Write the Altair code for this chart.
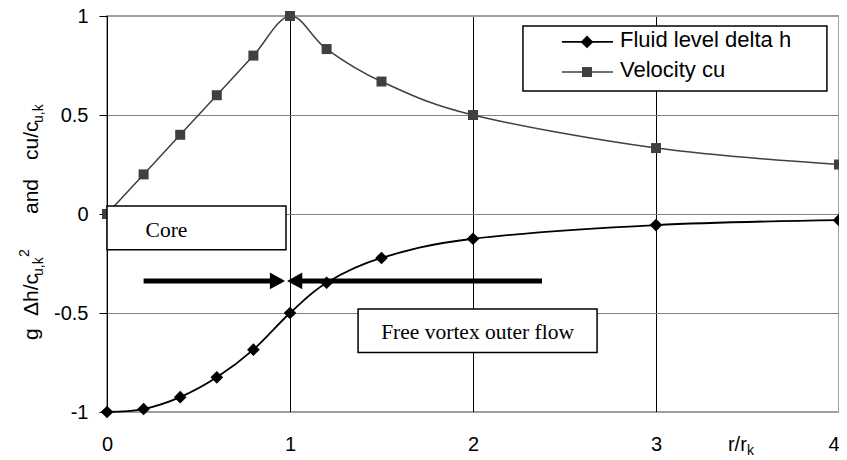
import altair as alt
import pandas as pd

# ---- data ----
r = [0, 0.2, 0.4, 0.6, 0.8, 1.0, 1.2, 1.5, 2, 3, 4]
fluid = [-1.0, -0.985, -0.925, -0.825, -0.685, -0.5, -0.347, -0.222, -0.125, -0.056, -0.031]
velocity = [0, 0.2, 0.4, 0.6, 0.8, 1.0, 0.833, 0.669, 0.5, 0.333, 0.25]

x_ticks = [0, 1, 2, 3, 4]
y_ticks = [-1, -0.5, 0, 0.5, 1]

# annotation boxes (data units)
box_name = ["core", "free", "legend"]
box_x1 = [0.0, 1.372, 2.273]
box_x2 = [0.978, 2.678, 3.934]
box_y1 = [0.04, -0.48, 0.949]
box_y2 = [-0.18, -0.70, 0.621]

note_text = ["Core", "Free vortex outer flow"]
note_x = [0.325, 2.025]
note_y = [-0.086, -0.60]

arrow_x1 = [0.2, 2.377]
arrow_x2 = [0.95, 1.02]
arrow_y = [-0.338, -0.338]
head_x = [0.973, 0.984]

leg_labels = ["Fluid level delta h", "Velocity cu"]
leg_line_x1 = [2.486, 2.486]
leg_line_x2 = [2.765, 2.765]
leg_mark_x = [2.623, 2.623]
leg_y = [0.869, 0.717]
leg_text_x = [2.803, 2.803]
leg_text_y = [0.843, 0.694]

# axis titles written in pieces (for sub/superscripts), data units
ytitle_text = ["g", "Δh/c", "u,k", "2", "and", "cu/c", "u,k"]
ytitle_x = [-0.377, -0.377, -0.350, -0.426, -0.377, -0.377, -0.350]
ytitle_y = [-0.636, -0.515, -0.313, -0.217, 0.0, 0.273, 0.460]
ytitle_size = [21, 21, 14, 14, 21, 21, 14]

xtitle_text = ["r/r", "k"]
xtitle_x = [3.393, 3.497]
xtitle_y = [-1.198, -1.217]
xtitle_size = [20, 14]

BLACK = "#000000"
GRAY = "#404040"
FONT = "Liberation Sans"
SERIF = "Liberation Serif"

df_f = pd.DataFrame({"x": r, "y": fluid})
df_v = pd.DataFrame({"x": r, "y": velocity})
df_box = pd.DataFrame({"name": box_name, "x": box_x1, "x2": box_x2, "y": box_y1, "y2": box_y2})
df_note = pd.DataFrame({"t": note_text, "x": note_x, "y": note_y})
df_arrow = pd.DataFrame({"x": arrow_x1, "x2": arrow_x2, "y": arrow_y})
df_head_r = pd.DataFrame({"x": [head_x[0]], "y": [arrow_y[0]]})
df_head_l = pd.DataFrame({"x": [head_x[1]], "y": [arrow_y[1]]})
df_yt = pd.DataFrame({"t": ytitle_text, "x": ytitle_x, "y": ytitle_y, "s": ytitle_size})
df_xt = pd.DataFrame({"t": xtitle_text, "x": xtitle_x, "y": xtitle_y, "s": xtitle_size})

xs = alt.Scale(domain=[0, 4], nice=False, zero=False)
ys = alt.Scale(domain=[-1, 1], nice=False, zero=False)

x_axis = alt.Axis(
    values=x_ticks, title=None,
    labelFont=FONT, labelFontSize=20, labelColor=BLACK, labelPadding=22,
    labelAlign={"condition": {"test": "datum.value == 4", "value": "right"}, "value": "center"},
    ticks=False, domain=False, grid=True,
    gridColor={"condition": {"test": "datum.value == 0 || datum.value == 4", "value": "transparent"}, "value": BLACK},
    gridWidth=1, labelFlush=False,
)
y_axis = alt.Axis(
    values=y_ticks, title=None,
    labelFont=FONT, labelFontSize=20, labelColor=BLACK, labelPadding=11,
    labelExpr="'' + datum.value",
    ticks=True, tickSize=8, tickColor=BLACK, tickWidth=1,
    domain=True, domainColor=BLACK, domainWidth=1,
    grid=True,
    gridColor={"condition": {"test": "datum.value == 1 || datum.value == -1", "value": "#a0a0a0"}, "value": "#808080"},
    gridWidth=1,
)


def X(field="x"):
    return alt.X(f"{field}:Q", scale=xs, axis=x_axis)


def Y(field="y"):
    return alt.Y(f"{field}:Q", scale=ys, axis=y_axis)


fl_line = alt.Chart(df_f).mark_line(color=BLACK, strokeWidth=1.8, interpolate="cardinal").encode(x=X(), y=Y())
fl_pts = alt.Chart(df_f).mark_point(shape="diamond", filled=True, size=160, color=BLACK, opacity=1).encode(x=X(), y=Y())
v_line = alt.Chart(df_v).mark_line(color=GRAY, strokeWidth=1.5, interpolate="cardinal").encode(x=X(), y=Y())
v_pts = alt.Chart(df_v).mark_point(shape="square", filled=True, size=100, color=GRAY, opacity=1).encode(x=X(), y=Y())

boxes = alt.Chart(df_box).mark_rect(fill="white", stroke=BLACK, strokeWidth=1.5).encode(
    x=X(), x2="x2:Q", y=Y(), y2="y2:Q")
notes = alt.Chart(df_note).mark_text(font=SERIF, fontSize=21.5, color=BLACK, align="center", baseline="middle").encode(
    x=X(), y=Y(), text="t:N")
arrows = alt.Chart(df_arrow).mark_rule(color=BLACK, strokeWidth=5, strokeCap="butt").encode(
    x=X(), x2="x2:Q", y=Y())
head_r = alt.Chart(df_head_r).mark_point(shape="M0,0L-1.9,-1.05L-1.9,1.05Z", filled=True, size=256, color=BLACK, opacity=1).encode(
    x=X(), y=Y())
head_l = alt.Chart(df_head_l).mark_point(shape="M0,0L1.9,-1.05L1.9,1.05Z", filled=True, size=256, color=BLACK, opacity=1).encode(
    x=X(), y=Y())

ytitle = alt.Chart(df_yt).mark_text(font=FONT, color=BLACK, align="left", baseline="alphabetic", angle=270).encode(
    x=X(), y=Y(), text="t:N", size=alt.Size("s:Q", scale=None, legend=None))
xtitle = alt.Chart(df_xt).mark_text(font=FONT, color=BLACK, align="left", baseline="alphabetic").encode(
    x=X(), y=Y(), text="t:N", size=alt.Size("s:Q", scale=None, legend=None))


def leg_layers(i, color, width, shape, size):
    dfl = pd.DataFrame({"x": [leg_line_x1[i]], "x2": [leg_line_x2[i]], "y": [leg_y[i]]})
    dfp = pd.DataFrame({"x": [leg_mark_x[i]], "y": [leg_y[i]]})
    dft = pd.DataFrame({"x": [leg_text_x[i]], "y": [leg_text_y[i]], "t": [leg_labels[i]]})
    ln = alt.Chart(dfl).mark_rule(color=color, strokeWidth=width).encode(x=X(), x2="x2:Q", y=Y())
    pt = alt.Chart(dfp).mark_point(shape=shape, filled=True, size=size, color=color, opacity=1).encode(x=X(), y=Y())
    tx = alt.Chart(dft).mark_text(font=FONT, fontSize=22, color=BLACK, align="left", baseline="alphabetic").encode(
        x=X(), y=Y(), text="t:N")
    return [ln, pt, tx]


layers = [fl_line, v_line, fl_pts, v_pts, boxes, notes, arrows, head_r, head_l, ytitle, xtitle]
layers += leg_layers(0, BLACK, 1.8, "diamond", 160)
layers += leg_layers(1, GRAY, 1.5, "square", 100)

chart = alt.layer(*layers).properties(
    width=732, height=396,
    autosize=alt.AutoSizeParams(type="none"),
    padding={"left": 99, "top": 8, "right": 0, "bottom": 46},
    background="white",
).configure_view(stroke="#a0a0a0", strokeWidth=2)

chart.save("out.html", embed_options={"renderer": "svg", "actions": False})
